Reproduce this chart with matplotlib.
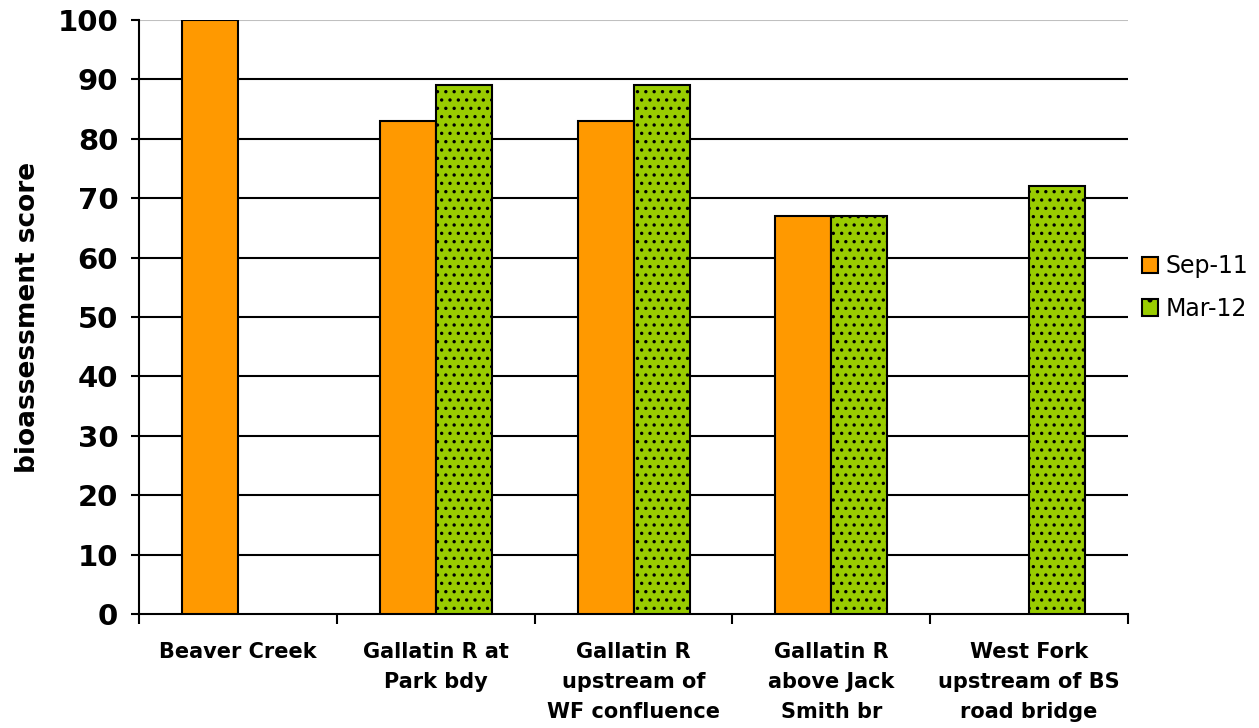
import numpy as np
import matplotlib.pyplot as plt
from matplotlib.patches import Patch

sites = ["Beaver Creek", "Gallatin R at\nPark bdy", "Gallatin R\nupstream of\nWF confluence",
         "Gallatin R\nabove Jack\nSmith br", "West Fork\nupstream of BS\nroad bridge"]
sep11 = [100, 83, 83, 67, np.nan]
mar12 = [np.nan, 89, 89, 67, 72]

plt.rcParams['hatch.color'] = '#1a1a1a'
plt.rcParams['hatch.linewidth'] = 1.2

fig = plt.figure(figsize=(12.59, 7.28), dpi=100)
ax = fig.add_axes([0.1104, 0.1566, 0.7856, 0.8159])

x = np.arange(len(sites))
w = 0.283
ax.bar(x - w/2, sep11, w, color='#FF9900', edgecolor='black', linewidth=1.5, zorder=3)
ax.bar(x + w/2, mar12, w, color='#99CC00', edgecolor='black', linewidth=1.5,
       hatch='..', zorder=3)

ax.set_xlim(-0.5, len(sites) - 0.5)
ax.set_ylim(0, 100)
ax.set_yticks(np.arange(0, 101, 10))
for v in range(10, 100, 10):
    ax.axhline(v, color='black', linewidth=1.5, zorder=1)
ax.axhline(100, color='#c0c0c0', linewidth=1.5, zorder=1)

for s in ['top', 'right']:
    ax.spines[s].set_visible(False)
ax.spines['left'].set_linewidth(1.5)
ax.spines['bottom'].set_linewidth(1.5)

ax.set_xticks(x)
ax.set_xticklabels(sites, fontsize=15, fontweight='bold', linespacing=1.62)
ax.tick_params(axis='x', length=0, pad=20)
ax.set_xticks(np.arange(-0.5, len(sites)), minor=True)
ax.tick_params(axis='x', which='minor', length=7, width=1.5, direction='out')
ax.tick_params(axis='y', length=6, width=1.5, direction='out', labelsize=21, pad=9)
for t in ax.get_yticklabels():
    t.set_fontweight('bold')

ax.set_ylabel('bioassessment score', fontsize=19, fontweight='bold', labelpad=12)

handles = [Patch(facecolor='#FF9900', edgecolor='black', linewidth=1.5, label='Sep-11'),
           Patch(facecolor='#99CC00', edgecolor='black', linewidth=1.5, hatch='.', label='Mar-12')]
fig.legend(handles=handles, loc='center left', bbox_to_anchor=(0.89, 0.605), frameon=False,
           fontsize=17, handlelength=0.7, handleheight=0.7, handletextpad=0.3, labelspacing=0.8)

fig.savefig('out.png', dpi=100)
